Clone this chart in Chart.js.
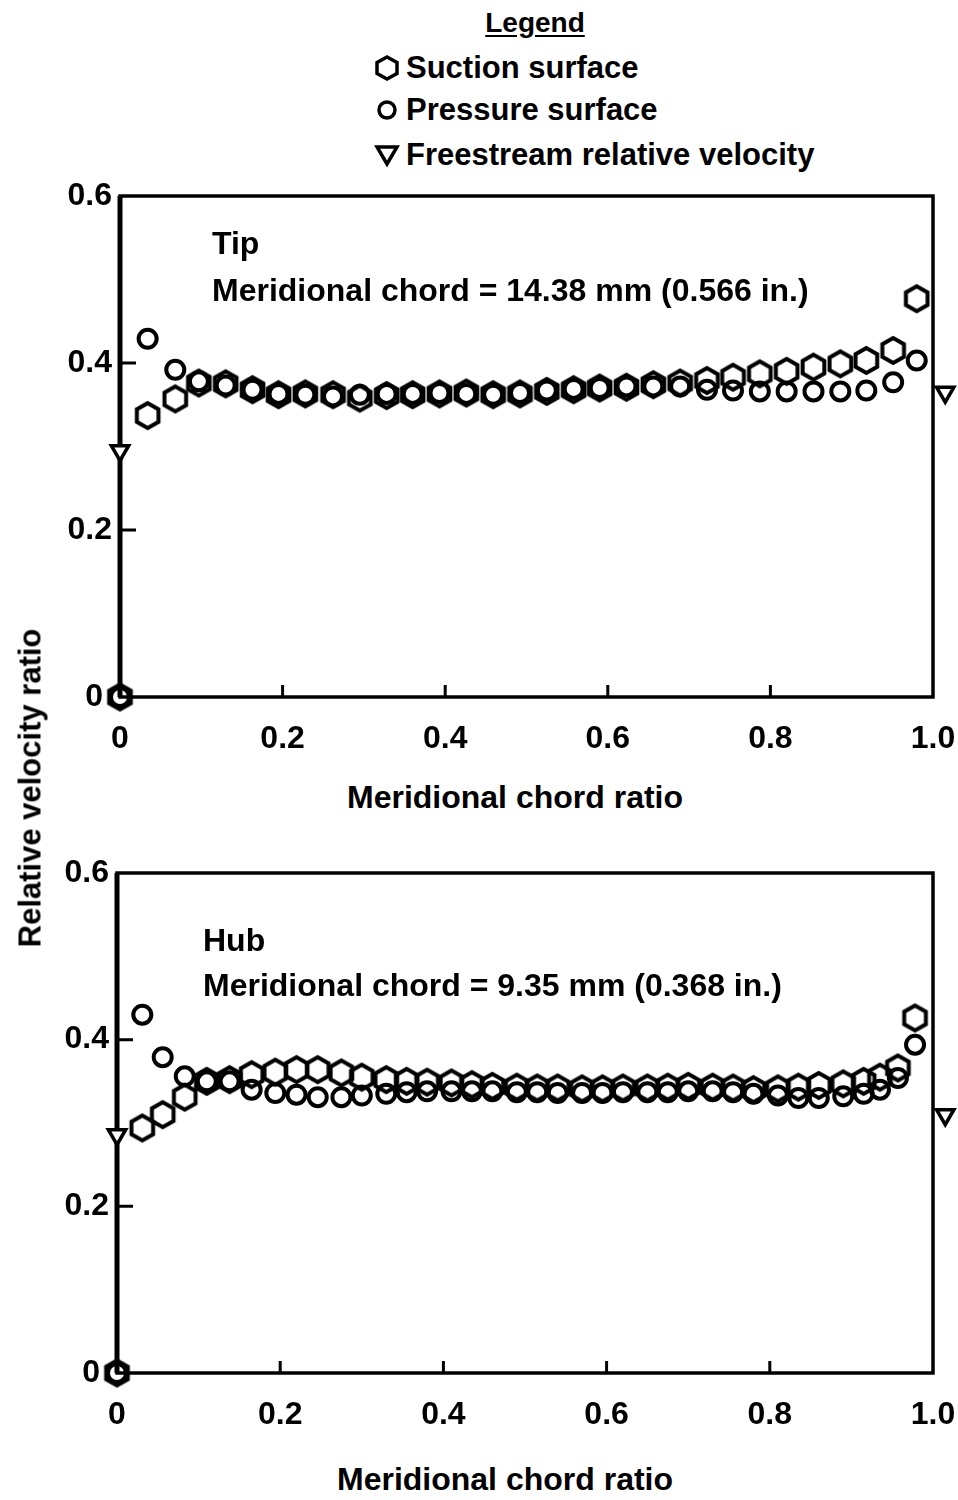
<!DOCTYPE html>
<html>
<head>
<meta charset="utf-8">
<script src="https://cdn.jsdelivr.net/npm/chart.js@4.4.1/dist/chart.umd.min.js"></script>
<style>
  body { margin: 0; background: #fff; }
  #page { position: relative; width: 958px; height: 1500px; overflow: hidden;
    font-family: "Liberation Sans", Arial, sans-serif;
    font-weight: bold; color: #000; }
  .txt { position: absolute; white-space: nowrap; line-height: 1; font-size: 32px; }
  canvas { position: absolute; left: 0; }
  .row { position: absolute; left: 374px; display: flex; align-items: center; font-size: 31px; line-height: 1; white-space: nowrap; }
  .row svg { margin-right: 6px; }
</style>
</head>
<body>
<div id="page">
  <div class="txt" style="left:0;width:1070px;text-align:center;top:9px;font-size:28px;text-decoration:underline;text-underline-offset:3px;">Legend</div>
  <div class="row" style="top:52px"><svg width="26" height="28"><polygon points="13,3 23,8.5 23,19.5 13,25 3,19.5 3,8.5" fill="none" stroke="#000" stroke-width="3.5"/></svg>Suction surface</div>
  <div class="row" style="top:94px"><svg width="26" height="28"><circle cx="13" cy="14" r="8" fill="none" stroke="#000" stroke-width="3.5"/></svg>Pressure surface</div>
  <div class="row" style="top:139px"><svg width="26" height="28"><polygon points="3,6 23,6 13,23" fill="none" stroke="#000" stroke-width="3.5"/></svg>Freestream relative velocity</div>

  <canvas id="tipChart" width="958" height="590" style="top:170px"></canvas>
  <canvas id="hubChart" width="958" height="590" style="top:850px"></canvas>

  <div class="txt" style="left:212px;top:227px">Tip</div>
  <div class="txt" style="left:212px;top:274px">Meridional chord = 14.38 mm (0.566 in.)</div>
  <div class="txt" style="left:203px;top:924px">Hub</div>
  <div class="txt" style="left:203px;top:969px">Meridional chord = 9.35 mm (0.368 in.)</div>

  <div class="txt" style="left:0;width:1030px;text-align:center;top:781px">Meridional chord ratio</div>
  <div class="txt" style="left:0;width:1010px;text-align:center;top:1463px">Meridional chord ratio</div>
  <div class="txt" style="left:30px;top:788px;font-size:31px;transform:translate(-50%,-50%) rotate(-90deg);">Relative velocity ratio</div>
</div>

<script>
// ---- data ----
const tipStations = [0, 0.034, 0.068, 0.097, 0.13, 0.163, 0.195, 0.228, 0.262, 0.295, 0.328, 0.36, 0.393, 0.426, 0.459, 0.492,
  0.525, 0.558, 0.59, 0.623, 0.656, 0.689, 0.722, 0.754, 0.787, 0.82, 0.853, 0.886, 0.918, 0.951, 0.98];
const tipSuction = [0, 0.337, 0.357, 0.376, 0.375, 0.368, 0.362, 0.363, 0.362, 0.358, 0.361, 0.362, 0.363, 0.364, 0.362, 0.363,
  0.366, 0.368, 0.370, 0.371, 0.374, 0.376, 0.379, 0.383, 0.387, 0.390, 0.395, 0.399, 0.403, 0.415, 0.477];
const tipPressure = [0, 0.429, 0.392, 0.378, 0.373, 0.368, 0.363, 0.362, 0.360, 0.362, 0.363, 0.363, 0.364, 0.363, 0.362, 0.364,
  0.367, 0.369, 0.370, 0.372, 0.372, 0.372, 0.368, 0.367, 0.366, 0.366, 0.366, 0.366, 0.367, 0.377, 0.403];
const tipFreeX = [0, 1.015];
const tipFree = [0.295, 0.365];

const hubStations = [0, 0.031, 0.056, 0.083, 0.11, 0.138, 0.165, 0.194, 0.22, 0.246, 0.275, 0.30, 0.33, 0.355, 0.38, 0.41,
  0.435, 0.46, 0.49, 0.515, 0.54, 0.57, 0.595, 0.62, 0.65, 0.675, 0.70, 0.73, 0.755, 0.78, 0.81, 0.835, 0.86, 0.89,
  0.915, 0.935, 0.957, 0.978];
const hubSuction = [0, 0.294, 0.31, 0.331, 0.35, 0.352, 0.358, 0.361, 0.364, 0.364, 0.36, 0.355, 0.352, 0.35, 0.349, 0.348,
  0.346, 0.344, 0.343, 0.342, 0.342, 0.341, 0.341, 0.342, 0.342, 0.343, 0.344, 0.343, 0.342, 0.34, 0.341, 0.343, 0.345, 0.347,
  0.35, 0.355, 0.366, 0.426];
const hubPressure = [0, 0.43, 0.379, 0.356, 0.35, 0.35, 0.34, 0.336, 0.334, 0.331, 0.331, 0.333, 0.335, 0.337, 0.338, 0.338,
  0.338, 0.338, 0.337, 0.337, 0.336, 0.336, 0.336, 0.337, 0.337, 0.337, 0.338, 0.338, 0.337, 0.335, 0.333, 0.33, 0.33, 0.332,
  0.335, 0.34, 0.354, 0.394];
const hubFreeX = [0, 1.015];
const hubFree = [0.286, 0.31];

const xTicks = [0, 0.2, 0.4, 0.6, 0.8, 1.0];
const yTicks = [0, 0.2, 0.4, 0.6];

const FONT = '"Liberation Sans", Arial, sans-serif';
const LW = 3.5;
const MARKER_LW = 4;

// hexagon marker, pointy top
function hexagonMarker(r, lw) {
  const size = Math.ceil(2 * r + lw + 2);
  const c = document.createElement('canvas');
  c.width = c.height = size;
  const g = c.getContext('2d');
  g.lineWidth = lw;
  g.strokeStyle = '#000';
  g.beginPath();
  for (let i = 0; i < 6; i++) {
    const a = Math.PI / 2 + i * Math.PI / 3;
    const px = size / 2 + r * Math.cos(a), py = size / 2 - r * Math.sin(a);
    if (i) g.lineTo(px, py); else g.moveTo(px, py);
  }
  g.closePath();
  g.stroke();
  return c;
}
const hex = hexagonMarker(12.5, MARKER_LW);

const pts = (xs, ys) => xs.map((x, i) => ({ x: x, y: ys[i] }));

// frame around the plot plus inward ticks
const frame = {
  id: 'frame',
  beforeDatasetsDraw(chart) {
    const { ctx, chartArea: a, scales: { x, y } } = chart;
    ctx.save();
    ctx.strokeStyle = '#000';
    ctx.lineWidth = LW;
    ctx.strokeRect(a.left, a.top, a.right - a.left, a.bottom - a.top);
    ctx.lineWidth = 5;
    ctx.beginPath();
    ctx.moveTo(a.left, a.top); ctx.lineTo(a.left, a.bottom);
    ctx.stroke();
    ctx.lineWidth = 3;
    ctx.beginPath();
    xTicks.slice(1, -1).forEach(v => {
      const px = x.getPixelForValue(v);
      ctx.moveTo(px, a.bottom); ctx.lineTo(px, a.bottom - 12);
    });
    yTicks.slice(1, -1).forEach(v => {
      const py = y.getPixelForValue(v);
      ctx.moveTo(a.left, py); ctx.lineTo(a.left + 16, py);
    });
    ctx.stroke();
    ctx.restore();
  }
};

const tickFont = { family: FONT, size: 32, weight: 'bold' };

function makeChart(id, stations, suction, pressure, freeX, free, pad) {
  return new Chart(document.getElementById(id), {
    type: 'scatter',
    data: {
      datasets: [
        { label: 'Suction surface', data: pts(stations, suction), pointStyle: hex, pointRadius: 12, clip: false },
        { label: 'Pressure surface', data: pts(stations, pressure), pointStyle: 'circle', pointRadius: 9,
          borderColor: '#000', borderWidth: MARKER_LW, backgroundColor: 'rgba(0,0,0,0)', clip: false },
        { label: 'Freestream relative velocity', data: pts(freeX, free), pointStyle: 'triangle', pointRotation: 180,
          pointRadius: 10, borderColor: '#000', borderWidth: LW, backgroundColor: '#fff', clip: false }
      ]
    },
    options: {
      responsive: false,
      animation: false,
      events: [],
      layout: { padding: { top: pad.top, right: pad.right, left: 0, bottom: 0 } },
      plugins: { legend: { display: false }, tooltip: { enabled: false } },
      scales: {
        x: {
          type: 'linear', min: 0, max: 1.0,
          afterFit: s => { s.height = pad.xh; s.paddingLeft = 0; s.paddingRight = 0; },
          afterBuildTicks: s => { s.ticks = xTicks.map(v => ({ value: v })); },
          grid: { display: false, drawTicks: false },
          border: { display: false },
          ticks: { padding: 23, color: '#000', font: tickFont, maxRotation: 0,
            callback: v => v === 0 ? '0' : v.toFixed(1) }
        },
        y: {
          type: 'linear', min: 0, max: 0.6,
          afterFit: s => { s.width = pad.yw; s.paddingTop = 0; s.paddingBottom = 0; },
          afterBuildTicks: s => { s.ticks = yTicks.map(v => ({ value: v })); },
          grid: { display: false, drawTicks: false },
          border: { display: false },
          // the zero label sits a little further left, clear of the origin marker
          ticks: { padding: 8, color: '#000', font: tickFont,
            callback: v => v === 0 ? '0 ' : v.toFixed(1) }
        }
      }
    },
    plugins: [frame]
  });
}

makeChart('tipChart', tipStations, tipSuction, tipPressure, tipFreeX, tipFree, { top: 26, right: 25, xh: 63, yw: 120 });
makeChart('hubChart', hubStations, hubSuction, hubPressure, hubFreeX, hubFree, { top: 23, right: 25, xh: 67, yw: 117 });
</script>
</body>
</html>
